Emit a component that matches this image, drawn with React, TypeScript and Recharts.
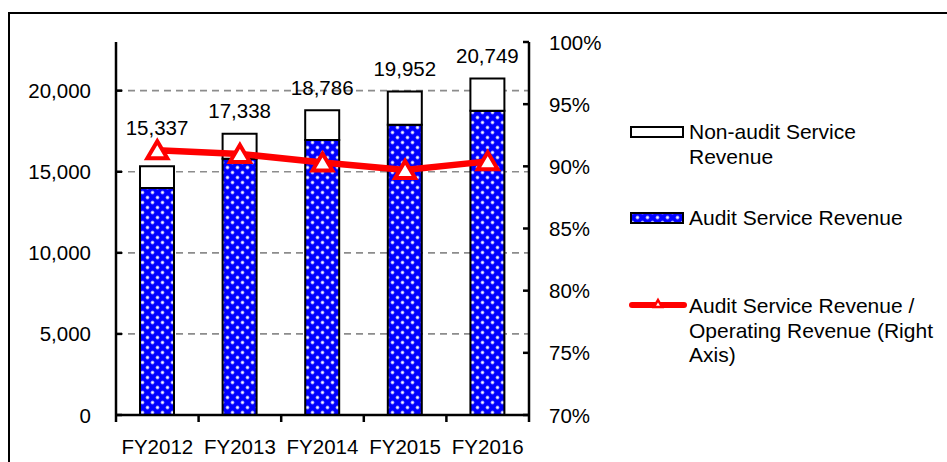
import React from "react"
import { ComposedChart, Bar, Line, XAxis, YAxis, CartesianGrid, LabelList } from "recharts"

// ---------------------------------------------------------------------------
// Data
// ---------------------------------------------------------------------------

const categories = ["FY2012", "FY2013", "FY2014", "FY2015", "FY2016"]
const totalRevenue = [15337, 17338, 18786, 19952, 20749]
const auditRevenue = [14000, 15800, 16950, 17900, 18760]
const auditRatio = [91.3, 91.0, 90.3, 89.7, 90.4]
const leftTicks = [0, 5000, 10000, 15000, 20000]
const gridValues = [5000, 10000, 15000, 20000]
const rightTicks = [70, 75, 80, 85, 90, 95, 100]

const data = categories.map((name, i) => ({
  name,
  audit: auditRevenue[i],
  nonAudit: totalRevenue[i] - auditRevenue[i],
  total: totalRevenue[i],
  ratio: auditRatio[i],
}))

// ---------------------------------------------------------------------------
// Layout / style
// ---------------------------------------------------------------------------

const W = 947
const H = 462
const FONT = "'Liberation Sans', Arial, sans-serif"
const BLUE = "#0000FF"
const RED = "#FF0000"
const PLOT_LEFT = 116
const PLOT_RIGHT = 529
const BAND = (PLOT_RIGHT - PLOT_LEFT) / categories.length

const fmt = (v: number) => v.toLocaleString("en-US")

function DotPattern({ id }: { id: string }) {
  return (
    <pattern id={id} width={10} height={10} patternUnits="userSpaceOnUse">
      <rect width={10} height={10} fill={BLUE} />
      <circle cx={2.5} cy={2.5} r={1.9} fill="#8a8aff" />
      <circle cx={2.5} cy={2.5} r={1.1} fill="#ffffff" />
      <circle cx={7.5} cy={7.5} r={1.9} fill="#8a8aff" />
      <circle cx={7.5} cy={7.5} r={1.1} fill="#ffffff" />
    </pattern>
  )
}

// ---------------------------------------------------------------------------
// Ticks
// ---------------------------------------------------------------------------

function LeftTick({ x, y, payload }: any) {
  return (
    <g>
      <line x1={x} x2={x + 6} y1={y} y2={y} stroke="#000" strokeWidth={2.5} />
      <text x={x - 25} y={y} textAnchor="end" dominantBaseline="central" fontSize={20.5} fontFamily={FONT} fill="#000">
        {fmt(payload.value)}
      </text>
    </g>
  )
}

function RightTick({ x, y, payload }: any) {
  return (
    <g>
      <line x1={x - 6} x2={x} y1={y} y2={y} stroke="#000" strokeWidth={2.5} />
      <text x={x + 20} y={y} textAnchor="start" dominantBaseline="central" fontSize={20.5} fontFamily={FONT} fill="#000">
        {payload.value}%
      </text>
    </g>
  )
}

function BottomTick({ x, y, payload, index }: any) {
  const left = x - BAND / 2
  const right = x + BAND / 2
  return (
    <g>
      <line x1={left} x2={left} y1={y} y2={y + 7} stroke="#000" strokeWidth={2.5} />
      {index === categories.length - 1 && (
        <line x1={right} x2={right} y1={y} y2={y + 7} stroke="#000" strokeWidth={2.5} />
      )}
      <text x={x} y={y + 31} textAnchor="middle" dominantBaseline="central" fontSize={20.5} fontFamily={FONT} fill="#000">
        {payload.value}
      </text>
    </g>
  )
}

// total label above each stacked bar (first one lifted clear of the line)
function TotalLabel({ x, y, width, index }: any) {
  const lift = index === 0 ? 39 : 23
  return (
    <text x={x + width / 2} y={y - lift} textAnchor="middle" dominantBaseline="central" fontSize={20.5} fontFamily={FONT} fill="#000">
      {fmt(totalRevenue[index])}
    </text>
  )
}

function TriangleDot({ cx, cy }: any) {
  if (cx == null || cy == null) return null
  return (
    <polygon
      points={`${cx},${cy - 9} ${cx + 10},${cy + 8} ${cx - 10},${cy + 8}`}
      fill="#fff"
      stroke={RED}
      strokeWidth={4}
    />
  )
}

// ---------------------------------------------------------------------------
// Legend (overlay)
// ---------------------------------------------------------------------------

function ChartLegend() {
  const txt = { fontSize: 21, fontFamily: FONT, fill: "#000" }
  return (
    <svg width={W} height={H} style={{ position: "absolute", left: 0, top: 0, pointerEvents: "none" }}>
      <defs>
        <DotPattern id="dotsLegend" />
      </defs>
      <rect x={631} y={127} width={52} height={10} fill="#fff" stroke="#000" strokeWidth={2} />
      <text x={689} y={131} dominantBaseline="central" {...txt}>Non-audit Service</text>
      <text x={689} y={156} dominantBaseline="central" {...txt}>Revenue</text>

      <rect x={631} y={213} width={52} height={10} fill="url(#dotsLegend)" stroke="#000" strokeWidth={2} />
      <text x={689} y={217} dominantBaseline="central" {...txt}>Audit Service Revenue</text>

      <line x1={632} x2={684} y1={305} y2={305} stroke={RED} strokeWidth={6} strokeLinecap="round" />
      <polygon points="658,300 662,307 654,307" fill="#fff" stroke={RED} strokeWidth={2.5} />
      <text x={689} y={305} dominantBaseline="central" {...txt}>Audit Service Revenue /</text>
      <text x={689} y={330} dominantBaseline="central" {...txt}>Operating Revenue (Right</text>
      <text x={689} y={354} dominantBaseline="central" {...txt}>Axis)</text>
    </svg>
  )
}

// ---------------------------------------------------------------------------
// App
// ---------------------------------------------------------------------------

export default function App() {
  return (
    <div style={{ position: "absolute", left: 0, top: 0, width: W, height: H, background: "#fff", overflow: "hidden" }}>
      {/* frame (only top and left edges are in view) */}
      <div style={{ position: "absolute", left: 8, top: 12, width: W, height: H, borderTop: "2px solid #000", borderLeft: "2px solid #000" }} />

      <div style={{ position: "absolute", left: 0, top: 0 }}>
        <ComposedChart width={W} height={H} data={data} margin={{ top: 42, right: W - PLOT_RIGHT - 60, bottom: 0, left: 0 }}>
          <defs>
            <DotPattern id="dotsBar" />
          </defs>
          <CartesianGrid
            yAxisId="l"
            vertical={false}
            horizontalValues={gridValues}
            stroke="#8c8c8c"
            strokeWidth={1.6}
            strokeDasharray="7 5"
          />
          <XAxis
            dataKey="name"
            height={47}
            interval={0}
            tickSize={0}
            tickMargin={0}
            tickLine={false}
            axisLine={{ stroke: "#000", strokeWidth: 2.5 }}
            tick={<BottomTick />}
          />
          <YAxis
            yAxisId="l"
            width={PLOT_LEFT}
            domain={[0, 23000]}
            ticks={leftTicks}
            interval={0}
            tickSize={0}
            tickMargin={0}
            tickLine={false}
            axisLine={{ stroke: "#000", strokeWidth: 2.5 }}
            tick={<LeftTick />}
          />
          <YAxis
            yAxisId="r"
            orientation="right"
            width={60}
            domain={[70, 100]}
            ticks={rightTicks}
            interval={0}
            tickSize={0}
            tickMargin={0}
            tickLine={false}
            axisLine={{ stroke: "#000", strokeWidth: 2.5 }}
            tick={<RightTick />}
          />
          <Bar yAxisId="l" dataKey="audit" stackId="a" barSize={34} fill="url(#dotsBar)" stroke="#000" strokeWidth={2} isAnimationActive={false} />
          <Bar yAxisId="l" dataKey="nonAudit" stackId="a" barSize={34} fill="#fff" stroke="#000" strokeWidth={2} isAnimationActive={false}>
            <LabelList dataKey="total" content={<TotalLabel />} />
          </Bar>
          <Line
            yAxisId="r"
            dataKey="ratio"
            type="linear"
            stroke={RED}
            strokeWidth={6.5}
            dot={<TriangleDot />}
            activeDot={false}
            isAnimationActive={false}
          />
        </ComposedChart>
      </div>

      <ChartLegend />
    </div>
  )
}
